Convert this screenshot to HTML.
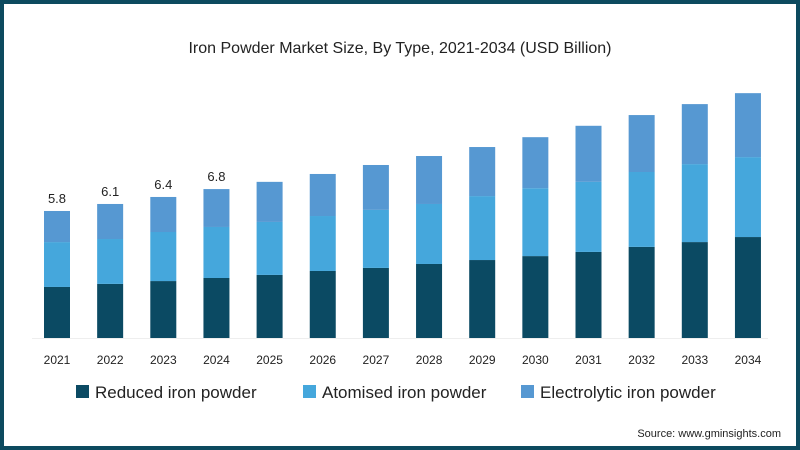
<!DOCTYPE html>
<html><head><meta charset="utf-8"><style>
html,body{margin:0;padding:0;background:#fff}
#wrap{position:relative;width:800px;height:450px;box-sizing:border-box;border:4px solid #0d4a5f;background:#fff;font-family:"Liberation Sans",sans-serif;overflow:hidden}
</style></head><body>
<div id="wrap">
<svg id="chart" width="792" height="442" viewBox="4 4 792 442"></svg>
</div>
<script>
const categories=["2021","2022","2023","2024","2025","2026","2027","2028","2029","2030","2031","2032","2033","2034"];
const reduced=[2.33,2.47,2.6,2.74,2.88,3.06,3.2,3.38,3.56,3.74,3.93,4.16,4.38,4.61];
const atomised=[2.05,2.05,2.24,2.33,2.42,2.51,2.65,2.74,2.92,3.1,3.2,3.42,3.56,3.65];
const electrolytic=[1.42,1.6,1.6,1.73,1.83,1.92,2.05,2.19,2.24,2.33,2.56,2.6,2.74,2.92];
const totalLabels=["5.8","6.1","6.4","6.8","","","","","","","","","",""];
const seriesNames=["Reduced iron powder","Atomised iron powder","Electrolytic iron powder"];
const colors=["#0b4a63","#45a7dc","#5698d2"];
const NS="http://www.w3.org/2000/svg";
const svg=document.getElementById("chart");
function mk(t,a,txt){const e=document.createElementNS(NS,t);for(const k in a)e.setAttribute(k,a[k]);if(txt!==undefined)e.textContent=txt;svg.appendChild(e);return e;}
const baseY=338,pxPer=21.9,x0=44,pitch=53.15,bw=26;
function yScale(v){return baseY-v*pxPer;}
function xScale(i){return x0+i*pitch;}
let t=mk("text",{x:400,y:53,"text-anchor":"middle","font-size":"16","fill":"#222"},"Iron Powder Market Size, By Type, 2021-2034 (USD Billion)");


let ax=mk("line",{x1:32,x2:768,y1:baseY+0.5,y2:baseY+0.5,stroke:"#eee","stroke-width":1});


const series=[reduced,atomised,electrolytic];
categories.forEach((c,i)=>{
  let cum=0;
  series.forEach((s,k)=>{
    const y1=yScale(cum),y2=yScale(cum+s[i]);cum+=s[i];
    const r=mk("rect",{x:xScale(i),y:y2,width:bw,height:y1-y2,fill:colors[k]});
    
    
  });
  const lb=mk("text",{x:xScale(i)+bw/2,y:364,"text-anchor":"middle","font-size":"12","fill":"#222"},c);
  
  
  if(totalLabels[i]){
    const v=mk("text",{x:xScale(i)+bw/2,y:yScale(cum)-8,"text-anchor":"middle","font-size":"13","fill":"#222"},totalLabels[i]);
    
    
  }
});
const legX=[76,303,521];
seriesNames.forEach((n,k)=>{
  const r=mk("rect",{x:legX[k],y:385,width:13,height:13,fill:colors[k]});
  
  
  const tx=mk("text",{x:legX[k]+19,y:398,"font-size":"17","fill":"#222"},n);
  
  
});
const src=mk("text",{x:781,y:437,"text-anchor":"end","font-size":"11","fill":"#222"},"Source: www.gminsights.com");


</script>
</body></html>
